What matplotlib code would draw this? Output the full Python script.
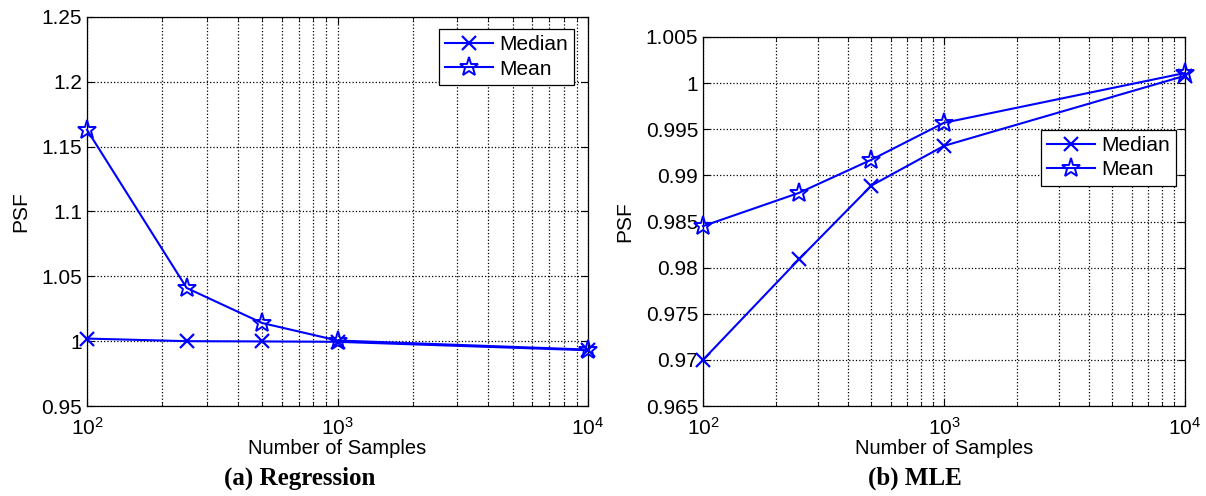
import math
import matplotlib
matplotlib.use("Agg")
import matplotlib.pyplot as plt
from matplotlib.ticker import FixedLocator, FuncFormatter, LogLocator, NullFormatter

plt.rcParams['font.family'] = ['Liberation Sans', 'DejaVu Sans']
plt.rcParams['mathtext.fontset'] = 'custom'
plt.rcParams['mathtext.rm'] = 'Liberation Sans'
plt.rcParams['mathtext.it'] = 'Liberation Sans'

# ---- data ----
samples = [100, 250, 500, 1000, 10000]
reg_median = [1.002, 1.0, 0.9998, 0.9995, 0.993]
reg_mean = [1.163, 1.041, 1.014, 1.0005, 0.9935]
mle_median = [0.9700, 0.9809, 0.9889, 0.9932, 1.0008]
mle_mean = [0.9845, 0.9881, 0.9917, 0.9957, 1.0011]
reg_yticks = [0.95, 1.0, 1.05, 1.1, 1.15, 1.2, 1.25]
mle_yticks = [0.965, 0.97, 0.975, 0.98, 0.985, 0.99, 0.995, 1.0, 1.005]
xticks = [1e2, 1e3, 1e4]
legend_labels = ['Median', 'Mean']
captions = ['(a) Regression', '(b) MLE']
xlabel = 'Number of Samples'
ylabel = 'PSF'

W, H = 1206, 496
fig = plt.figure(figsize=(W / 100, H / 100), dpi=100)
ax1 = fig.add_axes([87 / W, 1 - 406 / H, (588 - 87) / W, (406 - 17) / H])
ax2 = fig.add_axes([703 / W, 1 - 406 / H, (1185 - 703) / W, (406 - 37) / H])

blue = '#0000ff'
FS = 15
LFS = 14.5


def style(ax, med, mean, yticks):
    ax.plot(samples, med, color=blue, lw=1.5, marker='x', ms=10, mew=1.6,
            label=legend_labels[0], clip_on=False, zorder=5)
    ax.plot(samples, mean, color=blue, lw=1.5, marker='*', ms=14, mew=1.4,
            mfc='none', label=legend_labels[1], clip_on=False, zorder=5)
    ax.set_xscale('log')
    ax.set_xlim(1e2, 1e4)
    ax.set_ylim(yticks[0], yticks[-1])
    ax.yaxis.set_major_locator(FixedLocator(yticks))
    ax.yaxis.set_major_formatter(FuncFormatter(lambda v, p: '%g' % round(v, 4)))
    ax.xaxis.set_major_locator(FixedLocator(xticks))
    ax.xaxis.set_major_formatter(FuncFormatter(
        lambda v, p: r'$10^{%d}$' % round(math.log10(v))))
    ax.xaxis.set_minor_locator(LogLocator(base=10, subs=range(2, 10)))
    ax.xaxis.set_minor_formatter(NullFormatter())
    ax.grid(True, which='major', axis='both', color='k', ls=':', lw=0.9)
    ax.grid(True, which='minor', axis='x', color='k', ls=':', lw=0.9)
    ax.tick_params(which='both', direction='in', top=True, right=True,
                   labelsize=FS, color='k')
    ax.tick_params(which='major', length=5)
    ax.tick_params(which='minor', length=3)
    ax.tick_params(axis='x', which='major', pad=8)
    ax.set_xlabel(xlabel, fontsize=LFS, labelpad=0)
    ax.set_ylabel(ylabel, fontsize=FS, labelpad=8)
    for s in ax.spines.values():
        s.set_linewidth(0.9)


style(ax1, reg_median, reg_mean, reg_yticks)
style(ax2, mle_median, mle_mean, mle_yticks)

leg_kw = dict(fontsize=FS, fancybox=False, edgecolor='k', framealpha=1,
              borderpad=0.3, handlelength=2.3, labelspacing=0.25,
              handletextpad=0.3, borderaxespad=0.3)
l1 = ax1.legend(loc='upper right', bbox_to_anchor=(0.985, 0.985), **leg_kw)
l2 = ax2.legend(loc='upper right', bbox_to_anchor=(0.995, 0.765), **leg_kw)
for l in (l1, l2):
    l.get_frame().set_linewidth(0.9)
    l.set_zorder(10)

fig.text(300 / W, 1 - 478 / H, captions[0], ha='center', va='center',
         fontsize=18, fontweight='bold', family='Liberation Serif')
fig.text(915 / W, 1 - 478 / H, captions[1], ha='center', va='center',
         fontsize=18, fontweight='bold', family='Liberation Serif')

fig.savefig('out.png', dpi=100)
